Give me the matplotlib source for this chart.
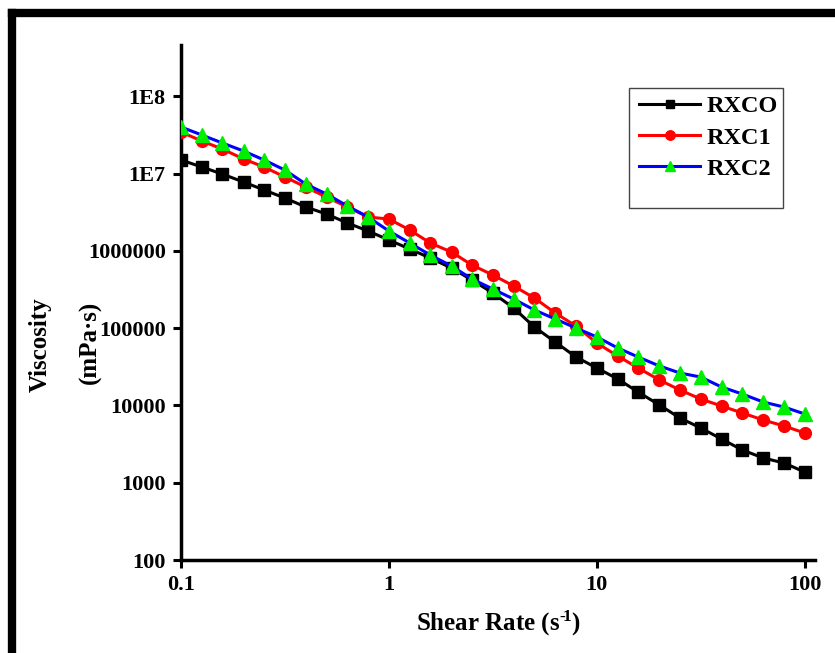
import numpy as np
import matplotlib
matplotlib.use("Agg")
import matplotlib.pyplot as plt
from matplotlib.lines import Line2D
from matplotlib.patches import Rectangle

plt.rcParams['font.family'] = ['Liberation Serif', 'DejaVu Serif']
plt.rcParams['font.weight'] = 'bold'
plt.rcParams['mathtext.fontset'] = 'custom'
plt.rcParams['mathtext.rm'] = 'Liberation Serif:bold'
plt.rcParams['mathtext.bf'] = 'Liberation Serif:bold'
plt.rcParams['mathtext.default'] = 'bf'

# Shear rate: 31 points, 10 per decade from 0.1 to 100 s^-1
shear_rate = [0.1, 0.126, 0.158, 0.2, 0.251, 0.316, 0.398, 0.501, 0.631, 0.794,
              1.0, 1.26, 1.58, 2.0, 2.51, 3.16, 3.98, 5.01, 6.31, 7.94,
              10.0, 12.6, 15.8, 20.0, 25.1, 31.6, 39.8, 50.1, 63.1, 79.4, 100.0]

# log10 of viscosity (mPa·s)
log_rxco = [7.175, 7.084, 6.993, 6.890, 6.787, 6.683, 6.567, 6.476, 6.360, 6.256,
            6.140, 6.023, 5.907, 5.777, 5.622, 5.454, 5.260, 5.014, 4.820, 4.626,
            4.484, 4.342, 4.173, 4.005, 3.837, 3.708, 3.565, 3.423, 3.320, 3.255, 3.138]
log_rxc1 = [7.537, 7.420, 7.317, 7.188, 7.084, 6.955, 6.825, 6.696, 6.567, 6.437,
            6.411, 6.269, 6.101, 5.984, 5.816, 5.687, 5.545, 5.389, 5.195, 5.027,
            4.807, 4.639, 4.484, 4.329, 4.199, 4.083, 3.992, 3.902, 3.811, 3.734, 3.643]
log_rxc2 = [7.602, 7.498, 7.395, 7.291, 7.175, 7.045, 6.864, 6.735, 6.580, 6.437,
            6.256, 6.101, 5.946, 5.803, 5.635, 5.506, 5.376, 5.234, 5.118, 5.001,
            4.885, 4.743, 4.626, 4.510, 4.419, 4.367, 4.238, 4.147, 4.044, 3.979, 3.889]

series_names = ["RXCO", "RXC1", "RXC2"]
y_ticks = [100, 1000, 10000, 100000, 1000000, 10000000, 100000000]
y_tick_labels = ["100", "1000", "10000", "100000", "1000000", "1E7", "1E8"]
x_ticks = [0.1, 1, 10, 100]
x_tick_labels = ["0.1", "1", "10", "100"]

x = np.array(shear_rate)
y0 = 10 ** np.array(log_rxco)
y1 = 10 ** np.array(log_rxc1)
y2 = 10 ** np.array(log_rxc2)

W, H = 835, 653
fig = plt.figure(figsize=(W/100, H/100), dpi=100)
ax = fig.add_axes([181/W, 1 - 560/H, (815 - 181)/W, (560 - 45)/H])

ax.plot(x, y0, color='black', lw=2.2, marker='s', ms=8, mfc='black', mec='black',
        label=series_names[0], zorder=3)
ax.plot(x, y1, color='red', lw=2.2, marker='o', ms=8.5, mfc='red', mec='red',
        label=series_names[1], zorder=4)
ax.plot(x, y2, color='blue', lw=2.2, marker='^', ms=9.5, mfc='#00ee00', mec='#00ee00',
        label=series_names[2], zorder=5)

ax.set_xscale('log')
ax.set_yscale('log')
ax.set_xlim(0.1, 112)
ax.set_ylim(100, 4.6e8)
ax.set_xticks(x_ticks)
ax.set_xticklabels(x_tick_labels)
ax.set_yticks(y_ticks)
ax.set_yticklabels(y_tick_labels)
ax.minorticks_off()
ax.tick_params(axis='both', which='major', direction='out', length=6, width=2.2,
               labelsize=16, pad=5)
for lab in ax.get_xticklabels() + ax.get_yticklabels():
    lab.set_fontweight('bold')

for side in ['top', 'right']:
    ax.spines[side].set_visible(False)
for side in ['left', 'bottom']:
    ax.spines[side].set_linewidth(2.5)

ax.set_xlabel("Shear Rate (s$^{\u2010\\!1}$)", fontsize=18, fontweight='bold', labelpad=10)

fig.text(40/W, 1 - 345/H, "Viscosity", rotation=90, fontsize=18, fontweight='bold',
         ha='center', va='center')
fig.text(90/W, 1 - 342/H, "(mPa·s)", rotation=90, fontsize=18, fontweight='bold',
         ha='center', va='center')

leg = ax.legend(loc='upper left', bbox_to_anchor=(632/W, 1 - 88/H),
                bbox_transform=fig.transFigure, borderaxespad=0,
                fontsize=17.5, frameon=False, handlelength=2.5,
                handletextpad=0.25, labelspacing=0.38, borderpad=0.3,
                numpoints=1, markerscale=0.8)
for t in leg.get_texts():
    t.set_fontweight('bold')

# Legend box drawn separately (box is taller than its entries)
fig.add_artist(Rectangle((629/W, 1 - 208/H), (783 - 629)/W, (208 - 88)/H,
                         transform=fig.transFigure, fill=False,
                         edgecolor='#444444', lw=1.0, zorder=6))

# Thick black frame (top and left edges visible)
fig.add_artist(Line2D([12/W, 1.0], [1 - 13/H, 1 - 13/H], color='black', lw=6,
                      solid_capstyle='projecting', transform=fig.transFigure))
fig.add_artist(Line2D([12/W, 12/W], [1 - 13/H, 0.0], color='black', lw=6,
                      solid_capstyle='projecting', transform=fig.transFigure))

fig.savefig("out.png", dpi=100)
